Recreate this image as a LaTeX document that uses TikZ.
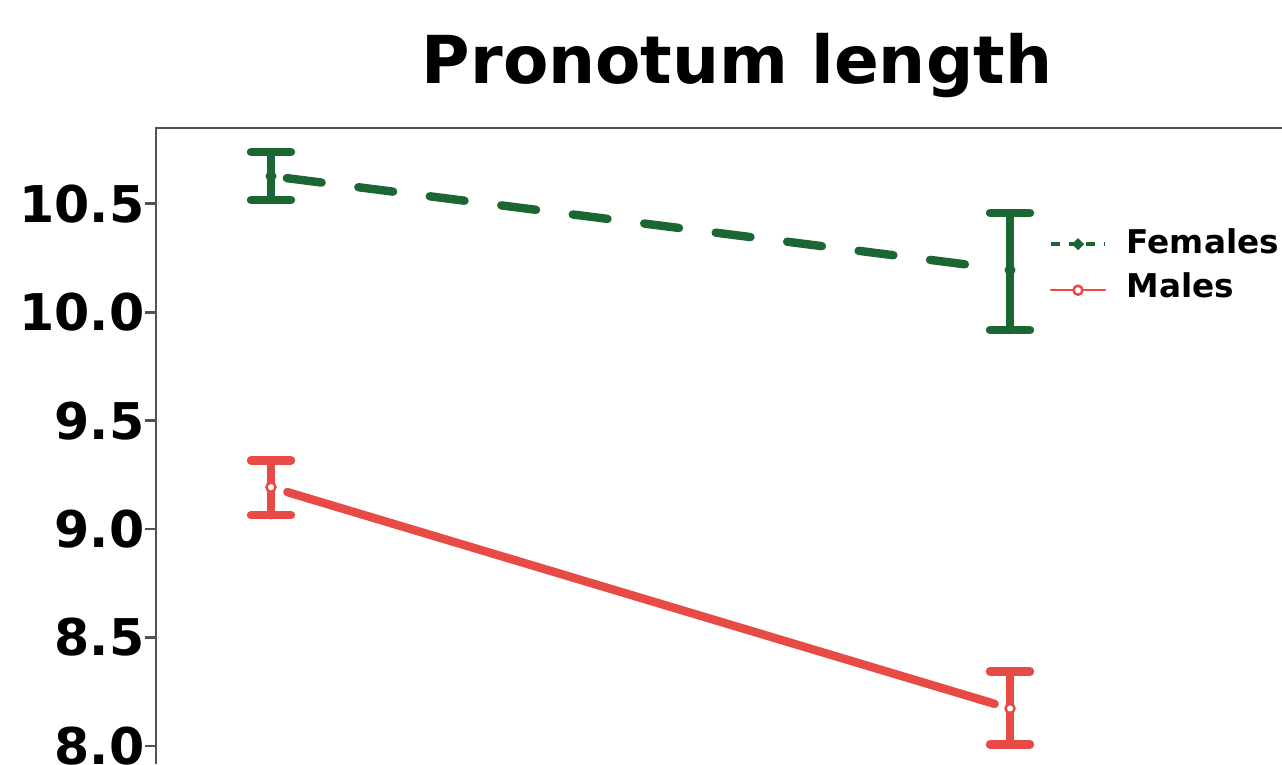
\documentclass[tikz,border=0pt]{standalone}
\usepackage{fontspec}
\setmainfont{DejaVu Sans}
\definecolor{FemGreen}{rgb}{0.11,0.40,0.20}
\definecolor{MalRed}{rgb}{0.91,0.29,0.27}
\definecolor{AxGray}{rgb}{0.32,0.32,0.32}

\begin{document}
\begin{tikzpicture}[x=0.01cm,y=2.168cm,line cap=round,
  bar/.style={line width=2.4pt},
  ticklbl/.style={anchor=east,inner sep=0pt,font=\fontsize{14.4}{16}\selectfont\bfseries},
  legtxt/.style={anchor=base west,inner sep=0pt,font=\fontsize{9.3}{11}\selectfont\bfseries}]
\def\capw{20}
\def\ptsize{.055cm}
\useasboundingbox (0,7.915) rectangle (1282,11.439);

% frame and ticks
\draw[AxGray,line width=.8pt,line cap=butt] (1282,10.849) -- (156,10.849) -- (156,7.915);
\foreach \v [count=\i] in {8.0,8.5,9.0,9.5,10.0,10.5} {
  \draw[AxGray,line width=.8pt,line cap=butt] (145,\v) -- (156,\v);
  \node[ticklbl] (tick\i) at (145,\v) {\v};
}

\node[anchor=base,inner sep=0pt,font=\fontsize{18.8}{22}\selectfont\bfseries] (title) at (737,11.055) {Pronotum length};

\coordinate (F1) at (271,10.627);
\coordinate (F2) at (1010,10.194);
\coordinate (M1) at (271,9.193);
\coordinate (M2) at (1010,8.173);

% error bars
\foreach \x/\lo/\hi/\c in {271/10.517/10.738/FemGreen,1010/9.917/10.457/FemGreen,
                           271/9.064/9.317/MalRed,1010/8.007/8.344/MalRed} {
  \draw[bar,\c] (\x,\lo) -- (\x,\hi);
  \draw[bar,\c] (\x-\capw,\lo) -- (\x+\capw,\lo);
  \draw[bar,\c] (\x-\capw,\hi) -- (\x+\capw,\hi);
}

% means
\draw[bar,FemGreen,dash pattern=on .35cm off .37cm,shorten <=.16cm,shorten >=.3cm] (F1) -- (F2);
\draw[bar,MalRed,shorten <=.17cm,shorten >=.16cm] (M1) -- (M2);

\fill[FemGreen] (F1) circle (\ptsize);
\fill[FemGreen] (F2) circle (\ptsize);
\filldraw[fill=white,draw=MalRed,line width=.7pt] (M1) circle (.045cm);
\filldraw[fill=white,draw=MalRed,line width=.7pt] (M2) circle (.045cm);

% legend
\coordinate (legF) at (1078,10.313);
\coordinate (legM) at (1078,10.101);
\draw[FemGreen,line width=1.1pt,line cap=butt,dash pattern=on 2.6pt off 2.4pt] ([xshift=-.27cm]legF) -- ([xshift=.27cm]legF);
\fill[FemGreen] ([yshift=.06cm]legF) -- ([xshift=.06cm]legF) -- ([yshift=-.06cm]legF) -- ([xshift=-.06cm]legF) -- cycle;
\draw[MalRed,line width=.7pt] ([xshift=-.27cm]legM) -- ([xshift=.27cm]legM);
\filldraw[fill=white,draw=MalRed,line width=.7pt] (legM) circle (.045cm);
\node[legtxt] (labF) at (1126,10.272) {Females};
\node[legtxt] (labM) at (1126,10.069) {Males};
\end{tikzpicture}
\end{document}
